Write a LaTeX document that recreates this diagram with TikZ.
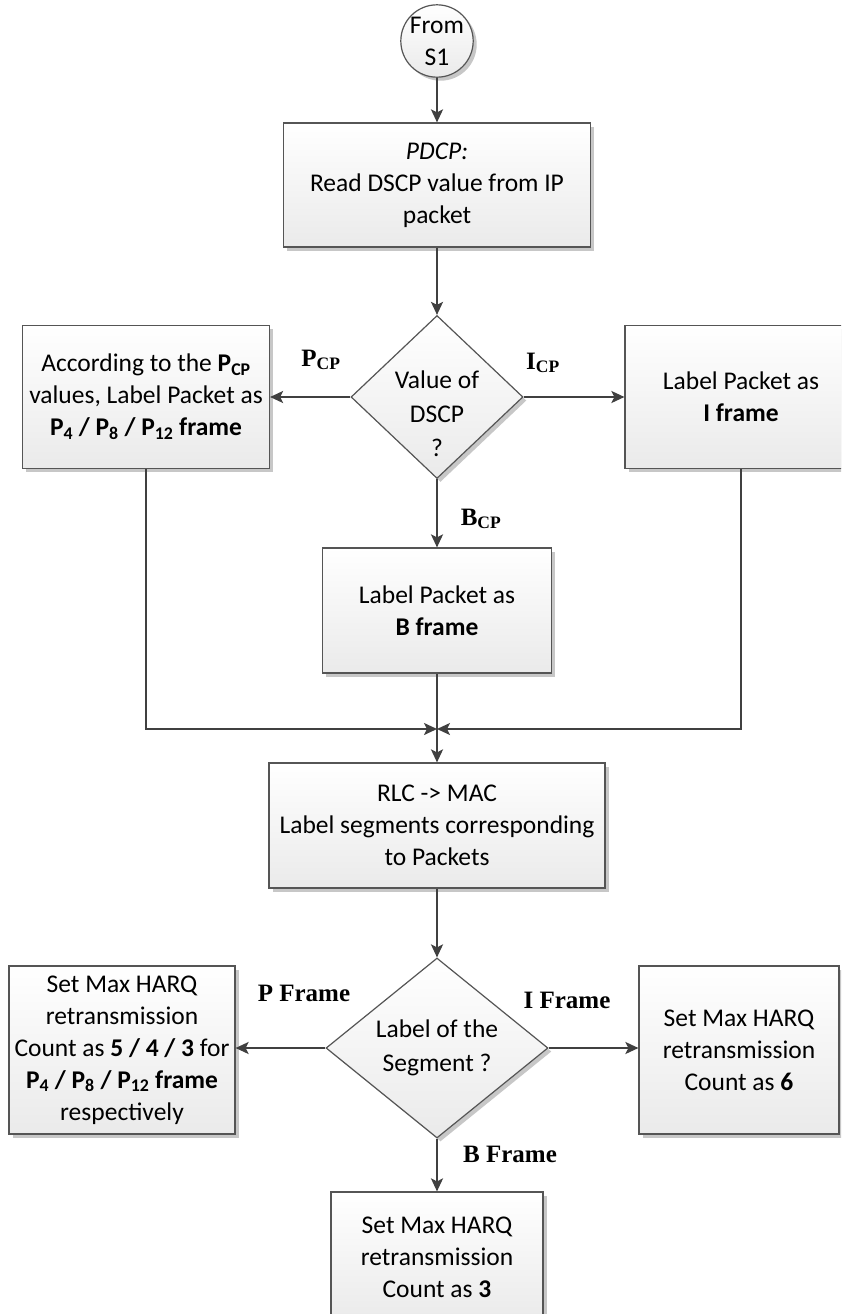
\documentclass[tikz,border=0pt]{standalone}
\usepackage{fontspec}
\setmainfont{Carlito}
\newfontfamily\labelfont{Liberation Serif}
\usetikzlibrary{shapes.geometric,shadows,arrows.meta}

\definecolor{edgecol}{HTML}{555555}
\definecolor{linecol}{HTML}{404040}
\definecolor{shadecol}{HTML}{EAEAEA}

\tikzset{
  boxfill/.style={top color=white, bottom color=shadecol, draw=edgecol, line width=1.2pt,
    drop shadow={shadow xshift=3.5pt, shadow yshift=-3.5pt, fill=black!22, opacity=1}},
  procbox/.style={boxfill, rectangle, align=center, inner sep=0pt,
    font=\fontsize{25.5}{32}\selectfont},
  decision/.style={boxfill, diamond, inner sep=0pt},
  dtext/.style={align=center, inner sep=0pt, font=\fontsize{25.5}{34}\selectfont},
  startnode/.style={boxfill, circle, inner sep=0pt, minimum size=68pt, align=center,
    font=\fontsize{25.5}{32}\selectfont},
  arr/.style={draw=linecol, line width=2pt, -{Stealth[length=13pt,width=12pt,inset=3pt]}},
  branch/.style={font=\labelfont\bfseries\fontsize{25}{30}\selectfont, inner sep=0pt},
}

\begin{document}
\begin{tikzpicture}[x=1pt,y=-1pt]
  \useasboundingbox (0,0) rectangle (841,1314);
  \clip (0,0) rectangle (841,1314);
  \fill[white] (0,0) rectangle (841,1314);

  % start connector
  \node[startnode] (c) at (437,41) {From\\S1};

  % PDCP stage
  \node[procbox, minimum width=307pt, minimum height=124pt] (pdcp) at (437,185)
    {\textit{PDCP:}\\Read DSCP value from IP\\packet};

  \node[decision, minimum width=172pt, minimum height=163pt] (d1) at (437,397) {};
  \node[dtext] (d1t) at (437,414) {Value of\\DSCP\\?};

  \node[procbox, minimum width=247pt, minimum height=143pt] (lbox) at (146,397)
    {According to the \textbf{P\textsubscript{CP}}\\values, Label Packet as\\
     \textbf{P\textsubscript{4} / P\textsubscript{8} / P\textsubscript{12} frame}};
  \node[procbox, minimum width=232pt, minimum height=143pt] (rbox) at (741,397)
    {Label Packet as\\\textbf{I frame}};
  \node[procbox, minimum width=229pt, minimum height=125pt] (bbox) at (437,610.5)
    {Label Packet as\\\textbf{B frame}};

  \coordinate (j) at (437,729);

  % RLC / MAC stage
  \node[procbox, minimum width=336pt, minimum height=125pt] (rlc) at (437,825.5)
    {RLC -> MAC\\Label segments corresponding\\to Packets};

  \node[decision, minimum width=222pt, minimum height=180pt] (d2) at (437,1048) {};
  \node[dtext] (d2t) at (d2.center) {Label of the\\Segment ?};

  \node[procbox, minimum width=226pt, minimum height=168pt] (bl) at (122,1050)
    {Set Max HARQ\\retransmission\\Count as \textbf{5 / 4 / 3} for\\
     \textbf{P\textsubscript{4} / P\textsubscript{8} / P\textsubscript{12} frame}\\respectively};
  \node[procbox, minimum width=200pt, minimum height=168pt] (br) at (739,1050)
    {Set Max HARQ\\retransmission\\Count as \textbf{6}};
  \node[procbox, minimum width=212pt, minimum height=130pt] (bot) at (437,1257)
    {Set Max HARQ\\retransmission\\Count as \textbf{3}};

  % connectors
  \draw[arr] (c) -- (pdcp);
  \draw[arr] (pdcp) -- (d1);
  \draw[arr] (d1.west) -- (lbox.east);
  \draw[arr] (d1.east) -- (rbox.west);
  \draw[arr] (d1.south) -- (bbox.north);
  \draw[arr] (lbox.south) |- (j);
  \draw[arr] (rbox.south) |- (j);
  \draw[arr] (bbox.south) -- (rlc.north);
  \draw[arr] (rlc) -- (d2);
  \draw[arr] (d2.west) -- (d2.west -| bl.east);
  \draw[arr] (d2.east) -- (d2.east -| br.west);
  \draw[arr] (d2.south) -- (bot.north);

  % branch labels
  \node[branch] (lp) at (321,360) {P\textsubscript{CP}};
  \node[branch] (li) at (543,363) {I\textsubscript{CP}};
  \node[branch] (lb) at (481,519) {B\textsubscript{CP}};
  \node[branch] (lpf) at (304,993) {P Frame};
  \node[branch] (lif) at (567,1000) {I Frame};
  \node[branch] (lbf) at (510,1154) {B Frame};
\end{tikzpicture}
\end{document}
